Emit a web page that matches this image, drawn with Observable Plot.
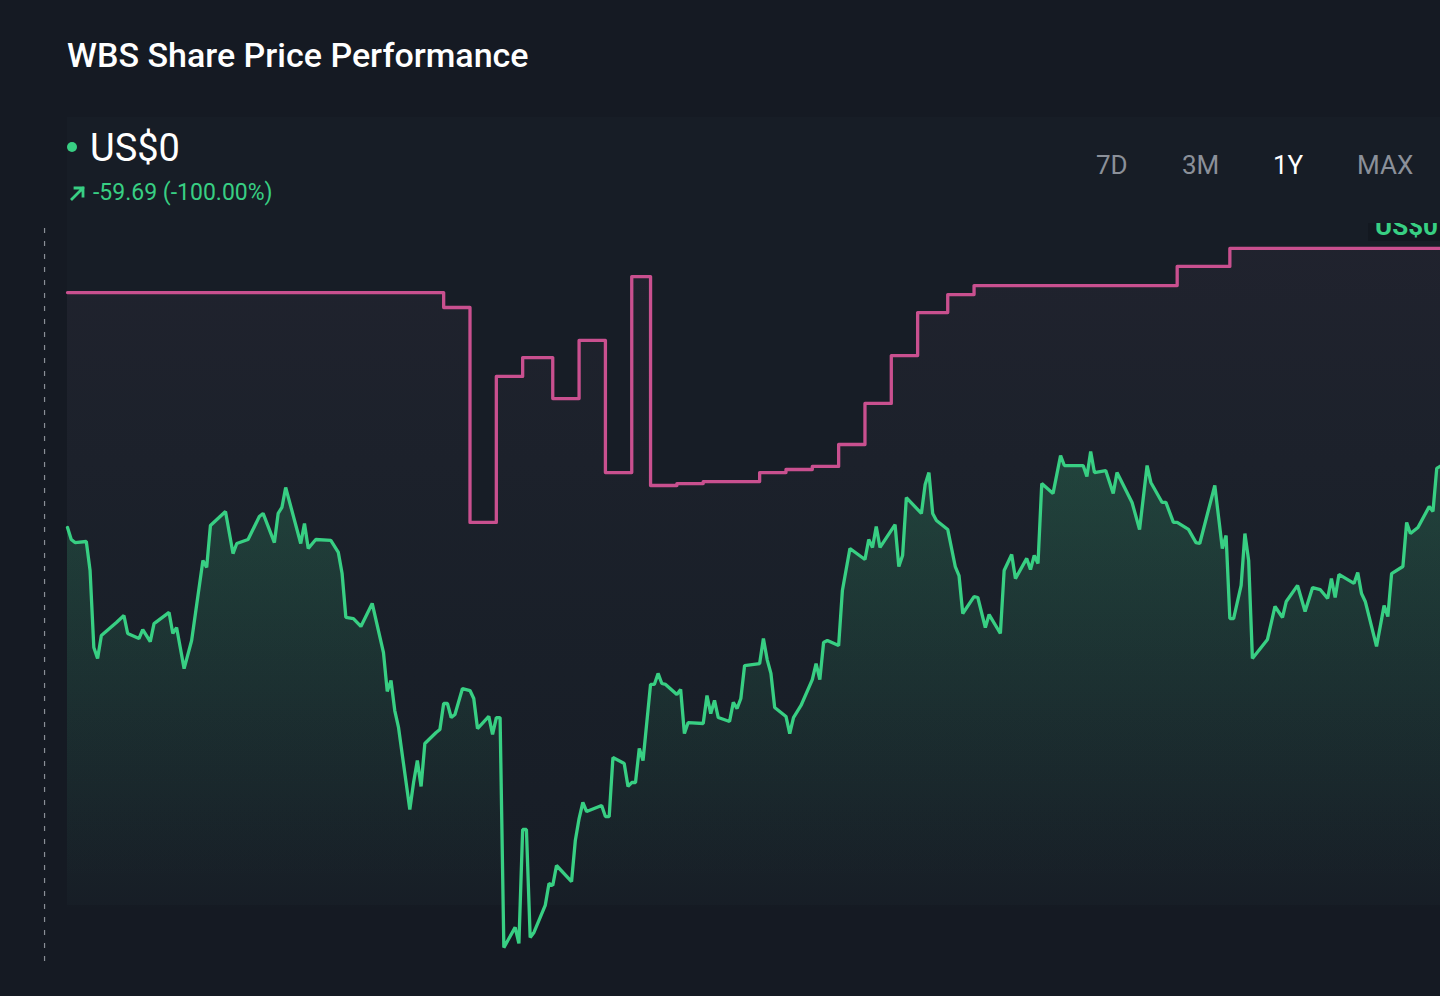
<!DOCTYPE html>
<html>
<head>
<meta charset="utf-8">
<script src="https://cdn.jsdelivr.net/npm/d3@7"></script>
<script src="https://cdn.jsdelivr.net/npm/@observablehq/plot@0.6"></script>
<style>
html, body { margin:0; padding:0; width:1440px; height:996px; overflow:hidden; background:#151a23; font-family: Roboto, "Noto Sans", sans-serif; }
.abs { position:absolute; white-space:nowrap; line-height:1; }
#panel { position:absolute; left:67px; top:117px; width:1373px; height:788px; background:#171d26; }
#title { left:67px; top:38px; font-size:34px; font-weight:500; color:#ffffff; }
#dot { position:absolute; left:67px; top:142px; width:10px; height:10px; border-radius:50%; background:#38cf83; }
#price { left:90px; top:129px; font-size:38px; font-weight:400; color:#ffffff; }
#arrow { position:absolute; left:69px; top:184px; }
#change { left:93px; top:181px; font-size:23px; color:#38cf83; }
.tab { top:152px; font-size:26px; color:#8b9099; }
.tab.active { color:#ffffff; }
#chart { position:absolute; left:0; top:223px; }
</style>
</head>
<body>
<div id="panel"></div>
<div class="abs" id="title"></div>
<div id="dot"></div>
<div class="abs" id="price"></div>
<svg id="arrow" width="18" height="18" viewBox="0 0 18 18"><path d="M3 15 L14 4 M6 4 L14 4 L14 12" fill="none" stroke="#38cf83" stroke-width="2.8" stroke-linecap="square"/></svg>
<div class="abs" id="change"></div>
<div id="tabs"></div>
<div id="chart"></div>
<script>
// ---- text values ----
const titleText = "WBS Share Price Performance";
const currentPriceText = "US$0";
const changeText = "-59.69 (-100.00%)";
const tabLabels = ["7D", "3M", "1Y", "MAX"];
const activeTab = "1Y";
const tabLefts = [1096, 1182, 1273, 1357];

// ---- time base ----
const startDate = Date.UTC(2022, 10, 17);
const DAY = 864e5;
const endDay = 365;
const markerDays = [-6.1];

// ---- share price (days from start, USD) ----
const priceDays = [
  0,1,2,5,6,7,8,9,13,15,
  16,19,20,22,23,27,28,29,31,33,
  36,37,38,42,44,45,48,51,52,55,
  56,57,58,62,63,64,66,70,72,73,
  74,76,78,81,84,85,86,87,88,91,
  92,93,94,95,98,99,100,101,102,103,
  105,107,108,109,112,113,114,115,116,119,
  120,121,122,123,124,127,128,129,130,134,
  135,136,137,138,142,143,144,145,148,149,
  150,151,152,153,155,156,157,158,159,162,
  163,164,165,169,170,171,172,173,176,177,
  178,179,180,184,185,186,187,188,191,192,
  193,195,198,199,200,201,202,205,206,208,
  212,213,214,215,216,220,221,222,223,227,
  228,229,230,231,234,236,237,238,241,242,
  244,245,248,249,251,252,255,256,257,258,
  259,262,264,265,270,271,272,273,276,278,
  279,281,283,285,287,288,291,292,294,295,
  298,300,301,305,307,308,309,310,312,313,
  314,315,319,321,323,324,327,329,331,333,
  335,336,337,338,342,343,344,345,348,350,
  351,352,355,356,357,359,362,363,364,365
];
const priceValues = [
  56.28,55.61,55.44,55.50,53.89,49.61,49.00,50.28,51.00,51.39,
  50.39,50.11,50.61,49.94,50.94,51.56,50.39,50.72,48.44,50.00,
  54.44,54.06,56.39,57.17,54.83,55.39,55.61,56.89,57.06,55.44,
  57.06,57.39,58.50,55.39,56.50,55.11,55.61,55.56,54.89,53.72,
  51.28,51.22,50.78,52.06,49.33,47.17,47.78,46.11,45.17,40.61,
  42.11,43.33,41.89,44.28,44.89,45.06,46.50,46.50,45.72,45.89,
  47.33,47.22,46.78,45.11,45.78,44.78,45.72,45.72,32.94,34.06,
  33.17,39.50,39.50,33.50,33.78,35.28,36.50,36.39,37.50,36.61,
  38.89,40.11,41.00,40.50,40.83,40.22,40.22,43.50,43.17,41.89,
  42.11,42.11,44.00,43.33,47.56,47.56,48.17,47.61,47.56,47.00,
  47.28,44.83,45.44,45.39,46.94,45.94,46.67,45.72,45.50,46.56,
  46.22,46.78,48.61,48.72,50.11,48.94,48.17,46.28,45.78,44.83,
  45.72,46.39,47.83,48.72,47.83,49.89,50.00,49.72,52.78,55.11,
  54.50,55.61,55.17,56.33,55.17,56.44,54.11,54.72,57.94,57.06,
  58.67,59.33,57.06,56.67,56.17,54.11,53.61,51.50,52.44,52.39,
  50.72,51.44,50.39,53.89,54.78,53.44,54.56,53.94,54.72,54.28,
  58.72,58.17,60.28,59.72,59.72,59.11,60.50,59.33,59.44,58.17,
  59.33,58.50,57.67,56.17,59.72,58.78,57.67,57.67,56.56,56.56,
  56.17,55.44,55.39,58.61,55.11,55.83,51.22,51.22,53.06,55.94,
  54.44,49.00,50.06,51.89,51.28,52.17,53.06,51.61,52.94,52.83,
  52.33,53.44,52.39,53.67,53.17,53.78,52.61,52.17,49.67,51.94,
  51.33,53.72,54.11,56.56,55.94,56.28,57.44,57.17,59.56,59.69
];

// ---- second series (weekly step line) ----
const targetDays = [0,100,107,114,121,129,136,143,150,155,162,169,184,191,198,205,212,219,226,234,241,295,309,365];
const targetValues = [69.33,68.50,56.56,64.67,65.72,63.44,66.67,59.33,70.22,58.61,58.72,58.83,59.33,59.50,59.67,60.89,63.17,65.83,68.22,69.22,69.72,70.78,71.78,71.78];

// ---- colours ----
const green = "#38cf83";
const pink = "#c9508f";

// ---- header ----
document.getElementById("title").textContent = titleText;
document.getElementById("price").textContent = currentPriceText;
document.getElementById("change").textContent = changeText;
const tabsEl = document.getElementById("tabs");
tabLabels.forEach((t, i) => {
  const d = document.createElement("div");
  d.className = "abs tab" + (t === activeTab ? " active" : "");
  d.style.left = tabLefts[i] + "px";
  d.textContent = t;
  tabsEl.appendChild(d);
});

// ---- data tables ----
const toDate = d => new Date(startDate + d * DAY);
const priceData = priceDays.map((d, i) => ({date: toDate(d), value: priceValues[i]}));
const targetData = targetDays.map((d, i) => ({date: toDate(d), value: targetValues[i]}));
const markers = markerDays.map(toDate);

const W = 1440, H = 773;
const NS = "http://www.w3.org/2000/svg";

function gradients() {
  const g = document.createElementNS(NS, "defs");
  g.innerHTML =
    `<linearGradient id="gGreen" gradientUnits="userSpaceOnUse" x1="0" y1="227" x2="0" y2="690">
       <stop offset="0" stop-color="${green}" stop-opacity="0.2"/>
       <stop offset="1" stop-color="${green}" stop-opacity="0"/>
     </linearGradient>
     <linearGradient id="gPink" gradientUnits="userSpaceOnUse" x1="0" y1="25" x2="0" y2="680">
       <stop offset="0" stop-color="#b07aa8" stop-opacity="0.06"/>
       <stop offset="0.6" stop-color="#8890a8" stop-opacity="0.02"/>
       <stop offset="1" stop-color="#8890a8" stop-opacity="0"/>
     </linearGradient>`;
  return g;
}

function currentLabel() {
  const g = document.createElementNS(NS, "g");
  const r = document.createElementNS(NS, "rect");
  r.setAttribute("x", 1368); r.setAttribute("y", 0);
  r.setAttribute("width", 72); r.setAttribute("height", 18);
  r.setAttribute("fill", "#131820");
  g.appendChild(r);
  const t = document.createElementNS(NS, "text");
  t.setAttribute("x", 1375); t.setAttribute("y", 12);
  t.setAttribute("text-anchor", "start");
  t.setAttribute("fill", green);
  t.setAttribute("font-size", 26);
  t.setAttribute("font-weight", 700);
  t.setAttribute("font-family", "Roboto, sans-serif");
  t.textContent = currentPriceText;
  g.appendChild(t);
  return g;
}

const chart = Plot.plot({
  width: W,
  height: H,
  marginTop: 5,
  marginBottom: 31,
  marginLeft: 0,
  marginRight: 0,
  style: {background: "transparent", overflow: "hidden"},
  x: {type: "utc", domain: [toDate(0), toDate(endDay)], range: [67, 1440], axis: null},
  y: {domain: [30, 75], range: [777, -33], axis: null},
  marks: [
    gradients,
    Plot.ruleX(markers, {stroke: "#8a8f97", strokeWidth: 1.2, strokeDasharray: "5,8"}),
    Plot.areaY(targetData, {x: "date", y: "value", curve: "step-after", fill: "url(#gPink)"}),
    Plot.areaY(priceData, {x: "date", y: "value", fill: "url(#gGreen)"}),
    Plot.line(targetData, {x: "date", y: "value", curve: "step-after", stroke: pink, strokeWidth: 3.3}),
    Plot.line(priceData, {x: "date", y: "value", stroke: green, strokeWidth: 3.3, strokeLinejoin: "miter"}),
    currentLabel
  ]
});
chart.style.overflow = "hidden";
chart.style.background = "transparent";
document.getElementById("chart").appendChild(chart);
</script>
</body>
</html>
